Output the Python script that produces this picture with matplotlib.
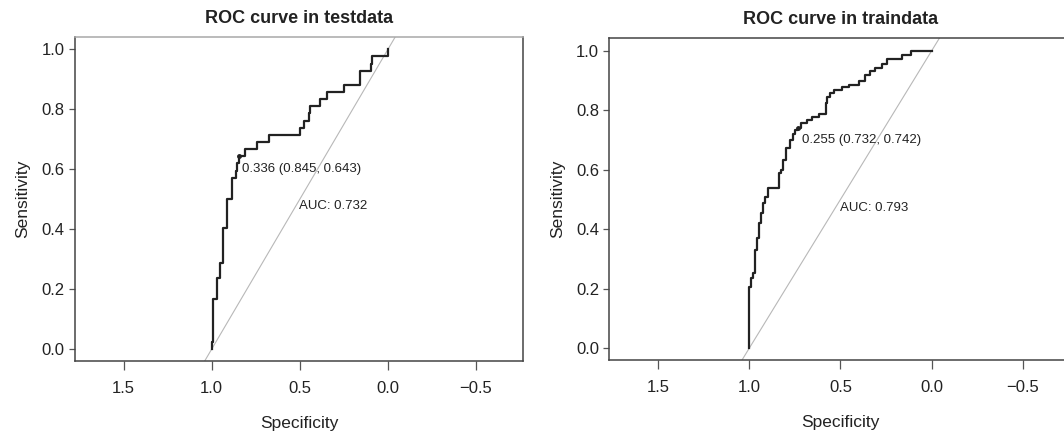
import matplotlib.pyplot as plt

plt.rcParams['font.family'] = ['Liberation Sans', 'DejaVu Sans']

# ROC curve in testdata (specificity, sensitivity at each step)
spec_test = [1.0, 1.0, 0.995, 0.969, 0.952, 0.934, 0.915, 0.884, 0.862, 0.855,
             0.845, 0.811, 0.744, 0.674, 0.499, 0.478, 0.450, 0.443, 0.383,
             0.347, 0.247, 0.156, 0.098, 0.093, 0.0]
sens_test = [0.0, 0.024, 0.167, 0.238, 0.286, 0.405, 0.500, 0.571, 0.595, 0.619,
             0.643, 0.667, 0.690, 0.714, 0.738, 0.762, 0.786, 0.810, 0.833,
             0.857, 0.881, 0.929, 0.952, 0.976, 1.0]

# ROC curve in traindata
spec_train = [1.0, 1.0, 0.991, 0.978, 0.968, 0.957, 0.948, 0.935, 0.924, 0.911,
              0.894, 0.838, 0.827, 0.814, 0.799, 0.777, 0.762, 0.747, 0.732,
              0.717, 0.684, 0.654, 0.617, 0.580, 0.572, 0.558, 0.535, 0.489,
              0.452, 0.400, 0.364, 0.340, 0.312, 0.270, 0.245, 0.164, 0.112, 0.0]
sens_train = [0.0, 0.207, 0.235, 0.252, 0.330, 0.370, 0.422, 0.454, 0.487, 0.510,
              0.540, 0.588, 0.600, 0.633, 0.672, 0.700, 0.722, 0.735, 0.742,
              0.758, 0.767, 0.778, 0.789, 0.823, 0.845, 0.857, 0.868, 0.877,
              0.885, 0.900, 0.918, 0.932, 0.941, 0.957, 0.971, 0.985, 1.0, 1.0]

titles = ["ROC curve in testdata", "ROC curve in traindata"]
best = [(0.336, 0.845, 0.643), (0.255, 0.732, 0.742)]
aucs = [0.732, 0.793]

fig = plt.figure(figsize=(10.64, 4.41), dpi=100)
ax1 = fig.add_axes([0.0705, 0.1814, 0.4208, 0.734])
ax2 = fig.add_axes([0.5727, 0.1837, 0.4343, 0.7295])

panels = [
    (ax1, spec_test, sens_test, (1.776, -0.765), (-0.04, 1.04), (0.829, 0.599), (0.503, 0.478)),
    (ax2, spec_train, sens_train, (1.766, -0.766), (-0.039, 1.042), (0.708, 0.700), (0.504, 0.472)),
]

for i, (ax, sp, se, xl, yl, thr_pos, auc_pos) in enumerate(panels):
    ax.axline((1, 0), (0, 1), color='#b8b8b8', lw=0.8, zorder=1)
    ax.plot(sp, se, drawstyle='steps-post', color='#222222', lw=1.6, zorder=2)
    t, bs, bse = best[i]
    ax.plot([bs], [bse], 'o', color='#222222', ms=2.5, zorder=3)
    ax.text(thr_pos[0], thr_pos[1], f"{t:.3f} ({bs:.3f}, {bse:.3f})",
            fontsize=9.5, ha='left', va='center', color='#222222')
    ax.text(auc_pos[0], auc_pos[1], f"AUC: {aucs[i]:.3f}",
            fontsize=9.5, ha='left', va='center', color='#222222')
    ax.set_xlim(*xl)
    ax.set_ylim(*yl)
    ax.set_xticks([1.5, 1.0, 0.5, 0.0, -0.5])
    ax.set_xticklabels(['1.5', '1.0', '0.5', '0.0', '\u22120.5'])
    ax.set_yticks([0.0, 0.2, 0.4, 0.6, 0.8, 1.0])
    ax.tick_params(axis='x', length=6.5, width=0.9, color='#555555', pad=8,
                   labelsize=12, labelcolor='#222222')
    ax.tick_params(axis='y', length=4.3, width=0.9, color='#555555', pad=3,
                   labelsize=12, labelcolor='#222222')
    for s in ax.spines.values():
        s.set_color('#444444')
        s.set_linewidth(1.1)
    ax.set_title(titles[i], fontsize=13, fontweight='bold', pad=10, color='#222222')
    ax.set_xlabel('Specificity', fontsize=12.5, labelpad=14, color='#222222')
    ax.set_ylabel('Sensitivity', fontsize=12.5, labelpad=8, color='#222222')

ax1.spines['top'].set_color('#a8a8a8')

fig.savefig('out.png', dpi=100)
